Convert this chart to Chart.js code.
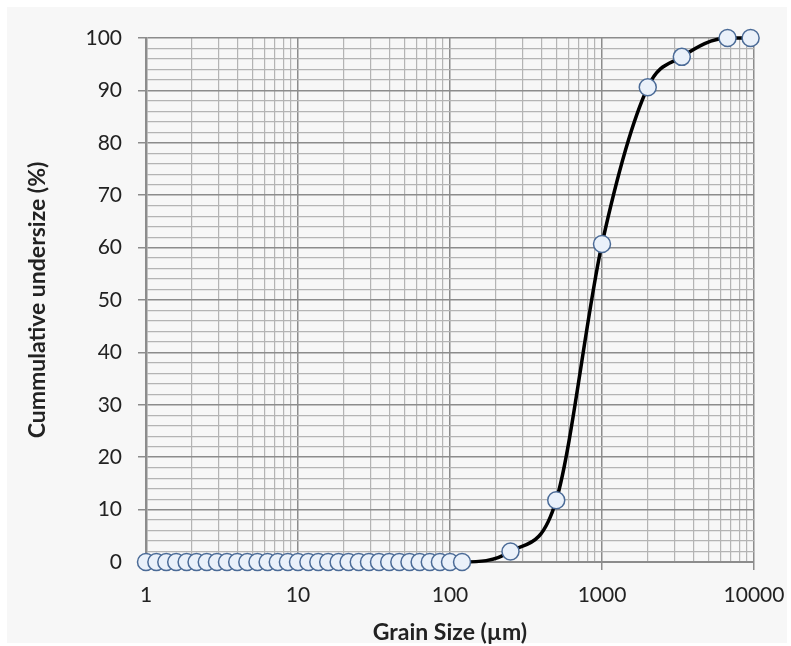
<!DOCTYPE html>
<html>
<head>
<meta charset="utf-8">
<script src="https://cdn.jsdelivr.net/npm/chart.js@4/dist/chart.umd.min.js"></script>
<style>
  html, body { margin: 0; padding: 0; background: #ffffff; }
  #wrap { width: 791px; height: 646px; }
</style>
</head>
<body>
<div id="wrap"><canvas id="chartGrain" width="791" height="646"></canvas></div>
<script>
// --- DONNEES ---
// grain sizes (µm) : laser bins then sieves
const grainSize = [1, 1.17, 1.36, 1.58, 1.85, 2.15, 2.51, 2.93, 3.41, 3.98, 4.64, 5.41, 6.31, 7.36, 8.58,
  10, 11.7, 13.6, 15.8, 18.5, 21.5, 25.1, 29.3, 34.1, 39.8, 46.4, 54.1, 63.1, 73.6, 85.8,
  100, 120, 250, 500, 1000, 2000, 3350, 6700, 9500];
const undersize = [0, 0, 0, 0, 0, 0, 0, 0, 0, 0, 0, 0, 0, 0, 0,
  0, 0, 0, 0, 0, 0, 0, 0, 0, 0, 0, 0, 0, 0, 0,
  0, 0, 2, 11.8, 60.7, 90.6, 96.4, 100, 100];

const xDecades = [1, 10, 100, 1000, 10000];
const xSubSteps = [1, 2, 3, 4, 5, 6, 7, 8, 9];
const yMin = 0, yMax = 100, yMinorStep = 2, yMajorStep = 10;

const xTitle = 'Grain Size (µm)';
const yTitle = 'Cummulative undersize (%)';

// --- STYLE ---
const FONT = 'Lato, "Open Sans", sans-serif';
const MINOR_GRID = '#b4b4b4', MAJOR_GRID = '#8c8c8c';

let points = grainSize.map((g, i) => ({ x: g, y: undersize[i] }));

// fond gris clair du cadre
const fondPlugin = {
  id: 'fond',
  beforeDraw(chart) {
    let c = chart.ctx;
    c.save();
    c.fillStyle = '#f7f7f7';
    c.fillRect(7, 7, 780, 636);
    c.restore();
  }
};

function isDecade(v) {
  return xDecades.indexOf(v) >= 0;
}

let chartGrainInstance = new Chart(document.getElementById('chartGrain').getContext('2d'), {
  type: 'line',
  data: {
    datasets: [{
      data: points,
      borderColor: '#000000',
      borderWidth: 3.5,
      cubicInterpolationMode: 'monotone',
      pointRadius: 8.5,
      pointBackgroundColor: '#eaf1fa',
      pointBorderColor: '#4b6b97',
      pointBorderWidth: 1.5,
      fill: false,
      clip: false
    }]
  },
  options: {
    responsive: false,
    animation: false,
    maintainAspectRatio: false,
    layout: { padding: { left: 0, right: 37, top: 38, bottom: 0 } },
    plugins: { legend: { display: false }, tooltip: { enabled: false } },
    scales: {
      x: {
        type: 'logarithmic',
        min: 1, max: 10000,
        afterBuildTicks: (scale) => {
          let t = [];
          xDecades.forEach(d => {
            if (d === 10000) { t.push({ value: d }); return; }
            xSubSteps.forEach(s => t.push({ value: d * s }));
          });
          scale.ticks = t;
        },
        afterFit: (scale) => { scale.height = 84; scale.paddingLeft = 0; scale.paddingRight = 0; },
        ticks: {
          autoSkip: false, maxRotation: 0, padding: 13,
          color: '#222', font: { family: FONT, size: 21 },
          callback: (v) => isDecade(v) ? String(v) : ''
        },
        grid: {
          color: (ctx) => isDecade(ctx.tick.value) ? MAJOR_GRID : MINOR_GRID,
          lineWidth: (ctx) => isDecade(ctx.tick.value) ? 1.5 : 1.2,
          tickColor: (ctx) => isDecade(ctx.tick.value) ? MAJOR_GRID : 'transparent',
          tickLength: 8,
          drawTicks: true
        },
        border: { display: true, color: MAJOR_GRID, width: 2 },
        title: {
          display: true, text: xTitle, color: '#222',
          font: { family: FONT, size: 23, weight: 'bold' },
          padding: { top: 4, bottom: 0 }
        }
      },
      y: {
        min: yMin, max: yMax,
        afterFit: (scale) => { scale.width = 146; scale.paddingTop = 0; scale.paddingBottom = 0; },
        ticks: {
          stepSize: yMinorStep, autoSkip: false, padding: 16,
          color: '#222', font: { family: FONT, size: 21 },
          callback: (v) => v % yMajorStep === 0 ? String(v) : ''
        },
        grid: {
          color: (ctx) => ctx.tick.value % yMajorStep === 0 ? MAJOR_GRID : MINOR_GRID,
          lineWidth: (ctx) => ctx.tick.value % yMajorStep === 0 ? 1.5 : 1.2,
          tickColor: (ctx) => ctx.tick.value % yMajorStep === 0 ? MAJOR_GRID : 'transparent',
          tickLength: 8
        },
        border: { display: true, color: MAJOR_GRID, width: 2.5 },
        title: {
          display: true, text: yTitle, color: '#222',
          font: { family: FONT, size: 23, weight: 'bold' },
          padding: { top: 24, bottom: 0 }
        }
      }
    }
  },
  plugins: [fondPlugin]
});
</script>
</body>
</html>
